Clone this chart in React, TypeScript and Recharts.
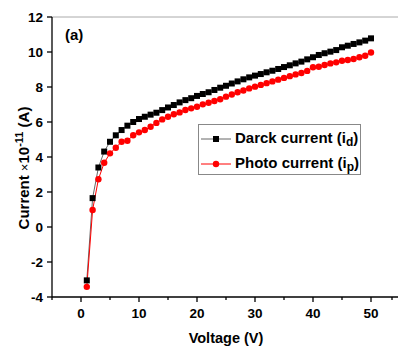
import React from "react"
import { LineChart, Line, XAxis, YAxis, ReferenceLine } from "recharts"

const voltage = [
  1, 2, 3, 4, 5, 6, 7, 8, 9, 10, 11, 12, 13, 14, 15, 16, 17, 18, 19, 20, 21, 22, 23, 24, 25,
  26, 27, 28, 29, 30, 31, 32, 33, 34, 35, 36, 37, 38, 39, 40, 41, 42, 43, 44, 45, 46, 47, 48, 49, 50,
]

const darkCurrent = [
  -3.05, 1.65, 3.4, 4.31, 4.87, 5.24, 5.54, 5.79, 6.0, 6.17, 6.3, 6.42, 6.53, 6.68, 6.83, 6.97, 7.12,
  7.25, 7.36, 7.49, 7.6, 7.7, 7.83, 7.96, 8.07, 8.2, 8.32, 8.44, 8.55, 8.65, 8.74, 8.84, 8.93, 9.03,
  9.14, 9.24, 9.35, 9.45, 9.58, 9.7, 9.83, 9.93, 10.02, 10.11, 10.27, 10.36, 10.46, 10.55, 10.65, 10.78,
]

const photoCurrent = [
  -3.42, 0.97, 2.73, 3.67, 4.21, 4.53, 4.87, 4.93, 5.24, 5.41, 5.54, 5.73, 5.95, 6.15, 6.3, 6.44, 6.55,
  6.69, 6.78, 6.87, 7.01, 7.1, 7.2, 7.3, 7.45, 7.57, 7.7, 7.8, 7.92, 8.02, 8.12, 8.22, 8.32, 8.42,
  8.52, 8.62, 8.72, 8.8, 8.92, 9.13, 9.16, 9.26, 9.35, 9.41, 9.5, 9.54, 9.6, 9.7, 9.79, 9.97,
]

const xTicks = [-5, 0, 5, 10, 15, 20, 25, 30, 35, 40, 45, 50, 55]
const yTicks = [-4, -3, -2, -1, 0, 1, 2, 3, 4, 5, 6, 7, 8, 9, 10, 11, 12]

const data = voltage.map((v, i) => ({ v, dark: darkCurrent[i], photo: photoCurrent[i] }))

const FONT = "'Liberation Sans', Arial, sans-serif"

const XTick = (props: any) => {
  const { x, y, payload } = props
  const major = payload.value % 10 === 0
  return (
    <g>
      <line x1={x} y1={y} x2={x} y2={y + (major ? 5 : 3)} stroke="#000" strokeWidth={1.3} />
      {major && (
        <text x={x} y={y + 21} textAnchor="middle" fontFamily={FONT} fontWeight="bold" fontSize={13.5} fill="#000">
          {payload.value}
        </text>
      )}
    </g>
  )
}

const YTick = (props: any) => {
  const { x, y, payload } = props
  const major = payload.value % 2 === 0
  return (
    <g>
      <line x1={x - (major ? 5 : 3)} y1={y} x2={x} y2={y} stroke="#000" strokeWidth={1.3} />
      {major && (
        <text x={x - 9} y={y + 5} textAnchor="end" fontFamily={FONT} fontWeight="bold" fontSize={13.5} fill="#000">
          {payload.value}
        </text>
      )}
    </g>
  )
}

const SquareDot = (props: any) => {
  const { cx, cy, index } = props
  return <rect key={`sq-${index}`} x={cx - 3} y={cy - 3} width={6} height={6} fill="#000" />
}

const RoundDot = (props: any) => {
  const { cx, cy, index } = props
  return <circle key={`ci-${index}`} cx={cx} cy={cy} r={3.2} fill="#ff0000" />
}

const XLabel = ({ viewBox }: any) => (
  <text
    x={viewBox.x + viewBox.width / 2}
    y={viewBox.y + 46}
    textAnchor="middle"
    fontFamily={FONT}
    fontWeight="bold"
    fontSize={14.5}
    fill="#000"
  >
    Voltage (V)
  </text>
)

const YLabel = ({ viewBox }: any) => {
  const cx = 29
  const cy = viewBox.y + viewBox.height / 2 + 11
  return (
    <text
      x={cx}
      y={cy}
      transform={`rotate(-90, ${cx}, ${cy})`}
      textAnchor="middle"
      fontFamily={FONT}
      fontWeight="bold"
      fontSize={15}
      fill="#000"
    >
      Current <tspan fontWeight="normal" fontSize={13}>×</tspan>10
      <tspan dy={-6} fontSize={11}>-11</tspan>
      <tspan dy={6}> (A)</tspan>
    </text>
  )
}

const legendItems = [
  { name: "Darck current (i", sub: "d", line: "#666", marker: "square" },
  { name: "Photo current (i", sub: "p", line: "#ff0000", marker: "circle" },
]

// legend drawn as an overlay so it does not shrink the plot area
const LegendBox = () => (
  <div
    style={{
      position: "absolute",
      left: 198,
      top: 124,
      border: "1px solid #888",
      background: "#fff",
      width: 163,
      height: 51,
      boxSizing: "border-box",
      paddingTop: 2,
      fontFamily: FONT,
    }}
  >
    {legendItems.map((item) => (
      <div key={item.sub} style={{ display: "flex", alignItems: "center", height: 24, marginBottom: 1 }}>
        <svg width={35} height={14} style={{ marginLeft: 1 }}>
          <line x1={1} y1={7} x2={31} y2={7} stroke={item.line} strokeWidth={1} />
          {item.marker === "square" ? (
            <rect x={13} y={4} width={6} height={6} fill="#000" />
          ) : (
            <circle cx={16} cy={7} r={3.2} fill="#ff0000" />
          )}
        </svg>
        <span style={{ fontWeight: "bold", fontSize: 15, color: "#000", whiteSpace: "nowrap" }}>
          {item.name}
          <sub style={{ fontSize: 12, verticalAlign: "-3px" }}>{item.sub}</sub>)
        </span>
      </div>
    ))}
  </div>
)

export default function App() {
  return (
    <div style={{ position: "absolute", left: 0, top: 0, width: 398, height: 347, overflow: "hidden", background: "#fff" }}>
      <LineChart width={400} height={347} data={data} margin={{ top: 17, right: 0, left: 0, bottom: 0 }}>
        <XAxis
          dataKey="v"
          type="number"
          domain={[-5, 55]}
          ticks={xTicks}
          height={50}
          tickSize={0}
          tickMargin={0}
          tickLine={false}
          tick={<XTick />}
          axisLine={{ stroke: "#000", strokeWidth: 1.3 }}
          allowDataOverflow
          label={<XLabel />}
        />
        <YAxis
          type="number"
          domain={[-4, 12]}
          ticks={yTicks}
          width={52}
          tickSize={0}
          tickMargin={0}
          tickLine={false}
          tick={<YTick />}
          axisLine={{ stroke: "#000", strokeWidth: 1.3 }}
          allowDataOverflow
          label={<YLabel />}
        />
        <ReferenceLine y={12} stroke="#aaa" strokeWidth={1} />
        <Line
          dataKey="dark"
          type="linear"
          stroke="#666"
          strokeWidth={1}
          dot={<SquareDot />}
          activeDot={false}
          isAnimationActive={false}
        />
        <Line
          dataKey="photo"
          type="linear"
          stroke="#ff0000"
          strokeWidth={1}
          dot={<RoundDot />}
          activeDot={false}
          isAnimationActive={false}
        />
      </LineChart>
      <LegendBox />
      <span
        style={{
          position: "absolute",
          left: 65,
          top: 27,
          fontFamily: FONT,
          fontWeight: "bold",
          fontSize: 15,
          lineHeight: "15px",
          color: "#000",
        }}
      >
        (a)
      </span>
    </div>
  )
}
